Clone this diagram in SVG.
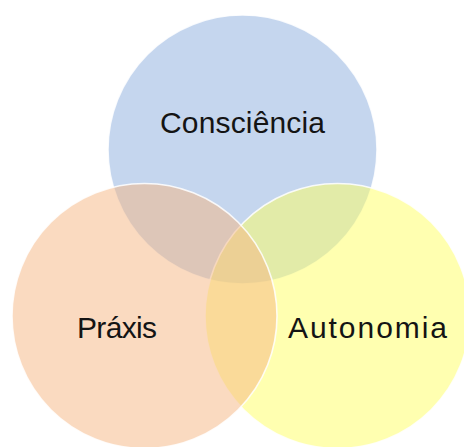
<svg xmlns="http://www.w3.org/2000/svg" width="464" height="447" viewBox="0 0 464 447">
  <style>
    .set { stroke: #ffffff; stroke-width: 1.6; stroke-opacity: 0.85; fill-opacity: 0.5; }
    .label { font-family: "Liberation Sans", Arial, sans-serif; font-size: 30px; fill: #141414; text-anchor: middle; }
  </style>
  <rect width="464" height="447" fill="#ffffff"/>
  <!-- stacking order: blue, then yellow, then peach on top -->
  <g id="consciencia">
    <circle class="set" cx="242.5" cy="149.5" r="134.5" fill="#8badde"/>
    <text class="label" x="242.5" y="133" textLength="165" lengthAdjust="spacing">Consciência</text>
  </g>
  <g id="autonomia">
    <circle class="set" cx="337.5" cy="316" r="132.5" fill="#ffff61"/>
    <text class="label" x="367.5" y="338" textLength="159" lengthAdjust="spacing">Autonomia</text>
  </g>
  <g id="praxis">
    <circle class="set" cx="144.5" cy="316" r="132.5" fill="#f5b581"/>
    <text class="label" x="117" y="338" textLength="80" lengthAdjust="spacing">Práxis</text>
  </g>
  <g id="connectors"/>
</svg>
